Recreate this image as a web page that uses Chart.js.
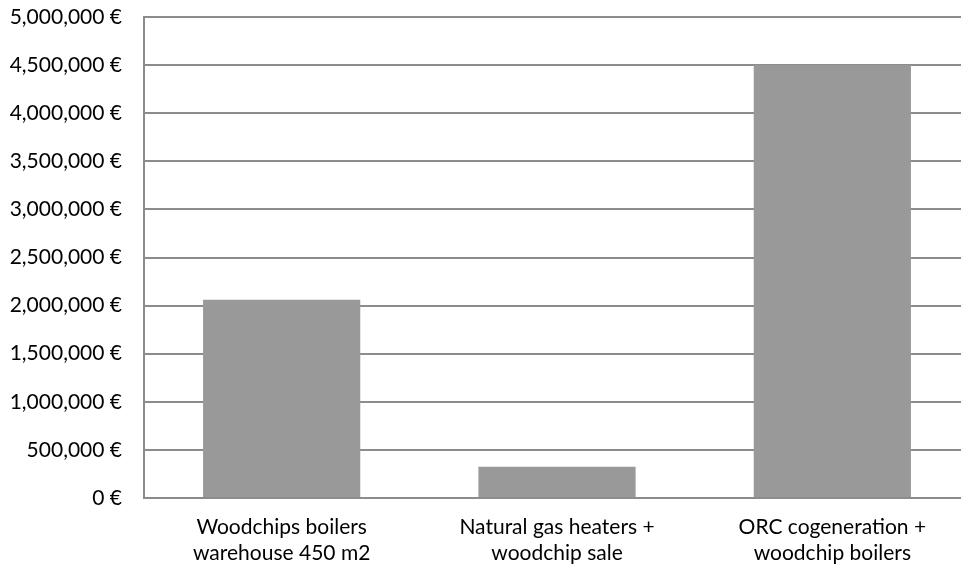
<!DOCTYPE html>
<html>
<head>
<meta charset="utf-8">
<script src="https://cdn.jsdelivr.net/npm/chart.js@4/dist/chart.umd.min.js"></script>
<style>
  html, body { margin: 0; padding: 0; background: #fff; overflow: hidden; }
  #wrap { width: 970px; height: 571px; position: relative; }
</style>
</head>
<body>
<div id="wrap"><canvas id="c" width="970" height="571"></canvas></div>
<script>
// Investment options and their cost in euros
const categories = [
  ['Woodchips boilers', 'warehouse 450 m2'],
  ['Natural gas heaters +', 'woodchip sale'],
  ['ORC cogeneration +', 'woodchip boilers']
];
const costs = [2060000, 325000, 4500000];
const yMin = 0;
const yMax = 5000000;
const yStep = 500000;

const FONT = 'Lato, "Open Sans", sans-serif';
const gridColor = '#8c8c8c';

new Chart(document.getElementById('c'), {
  type: 'bar',
  data: {
    labels: categories,
    datasets: [{
      data: costs,
      backgroundColor: '#999999',
      borderWidth: 0,
      barPercentage: 0.571,
      categoryPercentage: 1.0
    }]
  },
  options: {
    responsive: false,
    animation: false,
    devicePixelRatio: 1,
    layout: { padding: { top: 17, right: 0, bottom: 0, left: 0 } },
    plugins: { legend: { display: false }, tooltip: { enabled: false } },
    scales: {
      x: {
        grid: { display: false, drawTicks: false },
        border: { display: true, color: gridColor, width: 2 },
        ticks: {
          color: '#000',
          font: { family: FONT, size: 21, lineHeight: 1.25 },
          padding: 16,
          maxRotation: 0,
          autoSkip: false
        },
        afterFit: s => { s.height = 73; s.paddingLeft = 0; s.paddingRight = 0; }
      },
      y: {
        min: yMin,
        max: yMax,
        ticks: {
          stepSize: yStep,
          color: '#000',
          font: { family: FONT, size: 21 },
          padding: 22,
          callback: v => v.toLocaleString('en-US') + ' €'
        },
        grid: { color: gridColor, lineWidth: 2, drawTicks: false },
        border: { display: true, color: gridColor, width: 2 },
        afterFit: s => { s.width = 144; s.paddingTop = 0; s.paddingBottom = 0; }
      }
    }
  }
});
</script>
</body>
</html>
